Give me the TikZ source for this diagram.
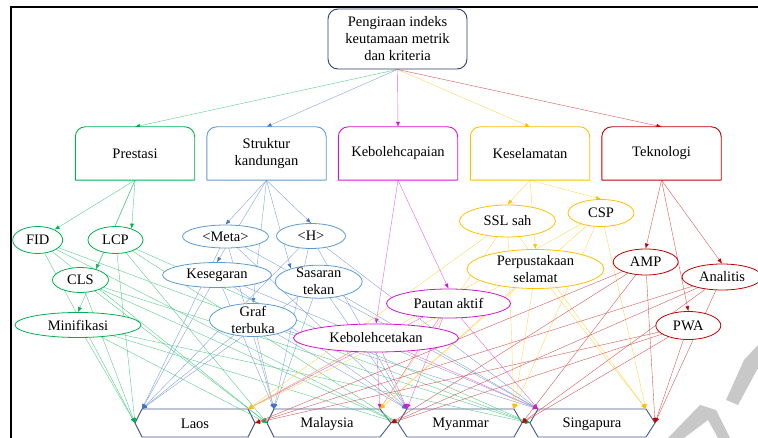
\documentclass[tikz,border=0pt]{standalone}
\usepackage{fontspec}
\setmainfont{Liberation Serif}
\usetikzlibrary{arrows.meta,shapes.geometric,backgrounds}

\definecolor{navy}{RGB}{47,62,108}
\definecolor{slate}{RGB}{70,88,140}
\definecolor{pgreen}{RGB}{0,176,80}
\definecolor{pblue}{RGB}{68,114,196}
\definecolor{lblue}{RGB}{91,155,213}
\definecolor{pmagenta}{RGB}{210,20,210}
\definecolor{pyellow}{RGB}{255,192,0}
\definecolor{pred}{RGB}{192,0,0}
\definecolor{wmark}{RGB}{200,200,200}

\begin{document}
\begin{tikzpicture}[
    x=1pt, y=-1pt,
    font=\fontsize{14.5}{17}\selectfont,
    link/.style={line width=0.4pt, draw=#1!65, -{Latex[length=5pt,width=4pt,color=#1]}},
    greenlink/.style={link=pgreen},
    bluelink/.style={link=pblue},
    magentalink/.style={link=pmagenta},
    yellowlink/.style={link=pyellow},
    redlink/.style={link=pred},
    root/.style={rectangle, draw=navy, line width=0.9pt, rounded corners=10pt,
        fill=white, align=center, minimum width=139pt, minimum height=60pt, inner sep=0pt},
    criterion/.style={rectangle, fill=white, align=center,
        minimum width=119pt, minimum height=53pt, inner sep=0pt},
    metric/.style={ellipse, draw=#1, line width=0.8pt, fill=white, align=center, inner sep=-2pt},
    country/.style={inner sep=0pt},
    hexagon/.style={draw=slate, line width=0.9pt},
    frame/.style={draw=black, line width=2pt}
]
\useasboundingbox (0,0) rectangle (758,438);
\draw[frame] (11,7) rectangle (790,470);

\node[root] (Root) at (397.5,39) {Pengiraan indeks\\keutamaan metrik\\dan kriteria};

\node[criterion] (Prestasi) at (135,153.5) {Prestasi};
\node[criterion] (Struktur) at (266.5,153.5) {Struktur\\kandungan};
\node[criterion] (Kebolehcapaian) at (398,153.5) {Kebolehcapaian};
\node[criterion] (Keselamatan) at (530,153.5) {Keselamatan};
\node[criterion] (Teknologi) at (661.5,153.5) {Teknologi};
\foreach \b/\c in {Prestasi/pgreen, Struktur/lblue, Kebolehcapaian/pmagenta,
    Keselamatan/pyellow, Teknologi/pred}
  \draw[\c, line width=0.9pt, rounded corners=10pt]
    (\b.south west) -- (\b.north west) -- (\b.north east) -- (\b.south east)
    (\b.south west) -- (\b.south east);

% Prestasi
\node[metric=pgreen, minimum width=50pt, minimum height=27pt] (FID) at (37.7,240) {FID};
\node[metric=pgreen, minimum width=55pt, minimum height=27pt] (LCP) at (115.5,240) {LCP};
\node[metric=pgreen, minimum width=56pt, minimum height=25pt] (CLS) at (80.5,280) {CLS};
\node[metric=pgreen, minimum width=126pt, minimum height=25pt] (Minifikasi) at (78,325) {Minifikasi};
% Struktur kandungan
\node[metric=lblue, minimum width=86pt, minimum height=23pt] (Meta) at (225.5,236.5) {<Meta>};
\node[metric=lblue, minimum width=69pt, minimum height=25pt] (H) at (311,236) {<H>};
\node[metric=lblue, minimum width=109pt, minimum height=25pt] (Kesegaran) at (217,275) {Kesegaran};
\node[metric=lblue, minimum width=87pt, minimum height=33pt] (Sasaran) at (318.7,281.7) {Sasaran\\tekan};
\node[metric=lblue, minimum width=87pt, minimum height=33pt] (Graf) at (253,320) {Graf\\terbuka};
% Kebolehcapaian
\node[metric=pmagenta, minimum width=124pt, minimum height=29pt] (Pautan) at (448.5,303.5) {Pautan aktif};
\node[metric=pmagenta, minimum width=165pt, minimum height=28pt] (Kebolehcetakan) at (376,338) {Kebolehcetakan};
% Keselamatan
\node[metric=pyellow, minimum width=96pt, minimum height=32pt] (SSL) at (507.5,221) {SSL sah};
\node[metric=pyellow, minimum width=66pt, minimum height=27pt] (CSP) at (601,213) {CSP};
\node[metric=pyellow, minimum width=137pt, minimum height=39pt] (Perpustakaan) at (535.5,269) {Perpustakaan\\selamat};
% Teknologi
\node[metric=pred, minimum width=65pt, minimum height=26pt] (AMP) at (645.7,262) {AMP};
\node[metric=pred, minimum width=80pt, minimum height=26pt] (Analitis) at (722,277) {Analitis};
\node[metric=pred, minimum width=65pt, minimum height=28pt] (PWA) at (688.3,325.5) {PWA};

\node[country] (Laos) at (195,424) {Laos};
\node[country] (Malaysia) at (327,424) {Malaysia};
\node[country] (Myanmar) at (460.5,424) {Myanmar};
\node[country] (Singapura) at (592,424) {Singapura};

\begin{scope}[on background layer]
\foreach \n/\l/\a/\b/\r in {Laos/135/142/248/255, Malaysia/267/274/380/391,
    Myanmar/398/407/514/522, Singapura/530/538/646/655} {
  \coordinate (\n-L) at (\l,423);
  \coordinate (\n-TL) at (\a,409);
  \coordinate (\n-TR) at (\b,409);
  \coordinate (\n-R) at (\r,423);
  \draw[hexagon] (\n-L) -- (\n-TL) -- (\n-TR) -- (\n-R) -- (\b,437) -- (\a,437) -- cycle;
}

\foreach \b/\c in {Prestasi/greenlink, Struktur/bluelink, Kebolehcapaian/magentalink,
    Keselamatan/yellowlink, Teknologi/redlink}
  \draw[\c] (Root.south) -- (\b.north);

\foreach \t in {FID,LCP.35,CLS.35,Minifikasi.north}
  \draw[greenlink] (Prestasi.south) -- (\t);
\foreach \t in {Meta.north,H.north,Kesegaran.north,Sasaran.155,Graf.north}
  \draw[bluelink] (Struktur.south) -- (\t);
\foreach \t in {Pautan,Kebolehcetakan}
  \draw[magentalink] (Kebolehcapaian.south) -- (\t.north);
\foreach \t in {SSL,CSP,Perpustakaan}
  \draw[yellowlink] (Keselamatan.south) -- (\t.north);
\foreach \t in {AMP,Analitis,PWA}
  \draw[redlink] (Teknologi.south) -- (\t.north);

\foreach \m in {FID,LCP,CLS,Minifikasi}
  \foreach \t in {Laos-L,Malaysia-L,Myanmar-L,Singapura-L}
    \draw[greenlink] (\m) -- (\t);
\foreach \m in {Meta,H,Kesegaran,Sasaran,Graf}
  \foreach \t in {Laos-TL,Malaysia-TL,Myanmar-TL,Singapura-TL}
    \draw[bluelink] (\m) -- (\t);
\foreach \m in {Pautan,Kebolehcetakan}
  \foreach \t in {Laos-TR,Malaysia-TR,Myanmar-TL,Singapura-TL}
    \draw[magentalink] (\m) -- (\t);
\foreach \m in {SSL,CSP,Perpustakaan}
  \foreach \t in {Laos-TR,Malaysia-TR,Myanmar-TR,Singapura-TR}
    \draw[yellowlink] (\m) -- (\t);
\foreach \m in {AMP,Analitis,PWA}
  \foreach \t in {Laos-R,Malaysia-R,Myanmar-R,Singapura-R}
    \draw[redlink] (\m) -- (\t);
\end{scope}

\fill[wmark] (744,360) -- (758,345) -- (758,368) -- (738,405) -- (726,400) -- cycle;
\fill[wmark] (668,438) -- (700,405) -- (716,410) -- (730,438) -- (718,438)
  -- (708,420) -- (684,438) -- cycle;
\end{tikzpicture}
\end{document}
